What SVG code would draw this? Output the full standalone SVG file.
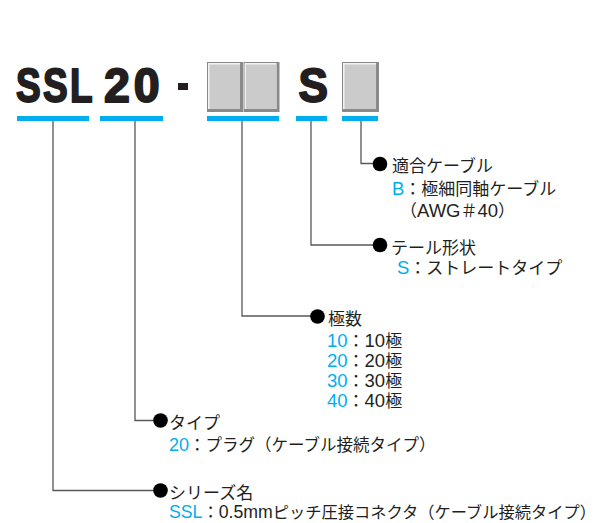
<svg xmlns="http://www.w3.org/2000/svg" width="602" height="523" viewBox="0 0 602 523">
<defs>
<style>
.code{font-family:"Liberation Sans",sans-serif;font-weight:bold;font-size:48px;fill:#231f20;stroke:#231f20;stroke-width:2px;stroke-linejoin:round;}
.bar{fill:#00aeef;}
.box-out{fill:#8a8a8a;}
.box-hi{fill:#f2f2f2;}
.box-in{fill:#cbcbcb;}
.lbl{font-family:"Liberation Sans","Noto Sans CJK JP",sans-serif;font-size:17px;fill:#231f20;}
.lat{font-size:18.5px;}
.sm{font-size:16.5px;}
.sm .lat{font-size:18px;}
.xs{font-size:16.25px;}
.xs .lat{font-size:17.7px;}
.blue{fill:#00aeef;}
.conn{fill:none;stroke:#595757;stroke-width:1.3;}
.dot{fill:#000;}
</style>
</defs>
<rect width="602" height="523" fill="#fff"/>

<g id="seg-ssl">
<text class="code" transform="translate(16,101.5) scale(0.77,1)" letter-spacing="3">SSL</text>
<rect class="bar" x="17" y="116" width="72" height="5"/>
</g>
<g id="seg-20">
<text class="code" transform="translate(104,101.5) scale(0.97,1)" letter-spacing="4">20</text>
<rect class="bar" x="100" y="116" width="63" height="5"/>
</g>
<g id="seg-dash">
<rect x="178" y="83" width="10" height="7" fill="#231f20"/>
</g>
<g id="seg-poles">
<rect class="box-out" x="207" y="62" width="36" height="50"/>
<rect class="box-hi" x="208" y="63" width="32" height="46"/>
<rect class="box-in" x="209.5" y="64.5" width="30.5" height="44.5"/>
<rect class="box-out" x="243.5" y="62" width="36" height="50"/>
<rect class="box-hi" x="244.5" y="63" width="32" height="46"/>
<rect class="box-in" x="246" y="64.5" width="30.5" height="44.5"/>
<rect class="bar" x="207" y="116" width="72" height="5"/>
</g>
<g id="seg-s">
<text class="code" transform="translate(298.5,101.5) scale(0.92,1)">S</text>
<rect class="bar" x="296" y="116" width="31" height="5"/>
</g>
<g id="seg-cable">
<rect class="box-out" x="342" y="62" width="37" height="50"/>
<rect class="box-hi" x="343" y="63" width="33" height="46"/>
<rect class="box-in" x="344.5" y="64.5" width="31.5" height="44.5"/>
<rect class="bar" x="342" y="116" width="36" height="5"/>
</g>

<g id="connectors">
<polyline class="conn" points="361,121 361,163.5 380,163.5"/>
<polyline class="conn" points="311,121 311,245 380,245"/>
<polyline class="conn" points="242,121 242,316 317,316"/>
<polyline class="conn" points="135,121 135,420.5 160,420.5"/>
<polyline class="conn" points="53,121 53,490.5 160,490.5"/>
</g>

<g id="label-cable">
<circle class="dot" cx="380" cy="164" r="7.3"/>
<text class="lbl" x="392" y="172">適合ケーブル</text>
<text class="lbl" x="392" y="195"><tspan class="blue lat">B</tspan>：極細同軸ケーブル</text>
<text class="lbl" x="400" y="216.5">（<tspan class="lat">AWG</tspan>＃<tspan class="lat">40</tspan>）</text>
</g>
<g id="label-tail">
<circle class="dot" cx="380" cy="245" r="7.3"/>
<text class="lbl" x="391" y="254">テール形状</text>
<text class="lbl" x="397" y="273.5"><tspan class="blue lat">S</tspan>：ストレートタイプ</text>
</g>
<g id="label-poles">
<circle class="dot" cx="317.5" cy="316.5" r="7.3"/>
<text class="lbl" x="328" y="325">極数</text>
<text class="lbl" x="327" y="346.5"><tspan class="blue lat">10</tspan>：<tspan class="lat">10</tspan>極</text>
<text class="lbl" x="327" y="366.5"><tspan class="blue lat">20</tspan>：<tspan class="lat">20</tspan>極</text>
<text class="lbl" x="327" y="386.5"><tspan class="blue lat">30</tspan>：<tspan class="lat">30</tspan>極</text>
<text class="lbl" x="327" y="406.5"><tspan class="blue lat">40</tspan>：<tspan class="lat">40</tspan>極</text>
</g>
<g id="label-type">
<circle class="dot" cx="160.5" cy="420.5" r="7.3"/>
<text class="lbl" x="169" y="429">タイプ</text>
<text class="lbl sm" x="169" y="451"><tspan class="blue lat">20</tspan>：プラグ（ケーブル接続タイプ）</text>
</g>
<g id="label-series">
<circle class="dot" cx="160.5" cy="490.5" r="7.3"/>
<text class="lbl" x="169" y="498.5">シリーズ名</text>
<text class="lbl xs" x="169" y="518"><tspan class="blue lat">SSL</tspan>：<tspan class="lat">0.5mm</tspan>ピッチ圧接コネクタ（ケーブル接続タイプ）</text>
</g>
</svg>
